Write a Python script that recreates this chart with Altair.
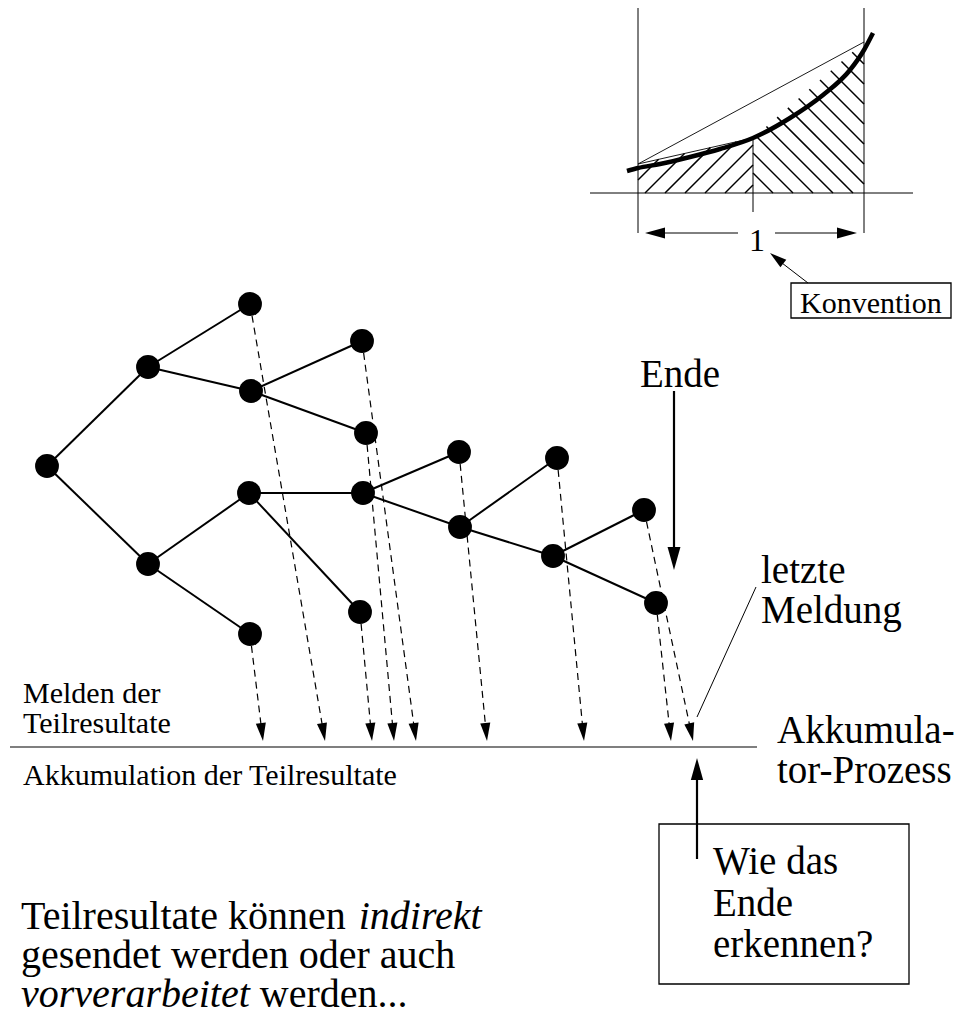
import math
import altair as alt
import pandas as pd

FONT = "Liberation Serif"

# ---------------- tree (image pixel coordinates) ----------------
node_id = ["r", "a", "b", "a1", "a2", "a2a", "a2b", "b1", "b2", "b1a", "b1b",
           "c1", "c2", "c3", "c4", "c5", "c6"]
node_x = [47, 148, 148, 250, 251, 362, 366, 249, 250, 363, 360,
          459, 460, 557, 553, 644, 656]
node_y = [466, 367, 564, 304, 391, 341, 433, 493, 634, 493, 612,
          452, 527, 458, 556, 510, 603]
edge_from = ["r", "r", "a", "a", "a2", "a2", "b", "b", "b1", "b1", "b1a", "b1a", "c2", "c2", "c4", "c4"]
edge_to = ["a", "b", "a1", "a2", "a2a", "a2b", "b1", "b2", "b1a", "b1b", "c1", "c2", "c3", "c4", "c5", "c6"]

# reports of partial results: leaf -> arrow tip on the accumulator line
report_leaf = ["b2", "a1", "b1b", "a2b", "a2a", "c1", "c3", "c6", "c5"]
report_tip_x = [263, 325, 372, 394, 416, 487, 584, 671, 693]
report_tip_y = 741

# accumulator line
acc_x = [10, 757]
acc_y = 747

# ---------------- inset (integration sketch) ----------------
curve_x = [627, 638, 660, 690, 720, 753, 790, 823, 850, 864, 873]
curve_y = [171, 168, 164, 157, 149, 138, 118, 95, 70, 50, 33]
inset_left, inset_mid, inset_right = 638, 753, 864
inset_base = 193
left_top = (638, 164)
mid_top = (753, 138)
right_top = (864, 42)

pos = {n: (x, y) for n, x, y in zip(node_id, node_x, node_y)}

# ---------------- build tables ----------------
edges = pd.DataFrame({
    "x": [pos[a][0] for a in edge_from], "y": [pos[a][1] for a in edge_from],
    "x2": [pos[b][0] for b in edge_to], "y2": [pos[b][1] for b in edge_to],
})
nodes = pd.DataFrame({"x": node_x, "y": node_y})

def angle_of(dx, dy):
    a = math.degrees(math.atan2(-dx, dy))
    return a % 360

dash_rows, head_rows = [], []
for leaf, tx in zip(report_leaf, report_tip_x):
    sx, sy = pos[leaf]
    dx, dy = tx - sx, report_tip_y - sy
    L = math.hypot(dx, dy)
    ex, ey = tx - dx / L * 14, report_tip_y - dy / L * 14
    dash_rows.append({"x": sx, "y": sy, "x2": ex, "y2": ey})
    head_rows.append({"x": tx, "y": report_tip_y, "ang": angle_of(dx, dy), "sz": 18 * 18 * 4})

# solid annotation lines
solid = pd.DataFrame([
    {"x": acc_x[0], "y": acc_y, "x2": acc_x[1], "y2": acc_y, "w": 1.2},
    {"x": 674, "y": 391, "x2": 674, "y2": 552, "w": 2.2},          # Ende arrow
    {"x": 697, "y": 859, "x2": 697, "y2": 775, "w": 2.2},          # question arrow
    {"x": 756, "y": 587, "x2": 697, "y2": 717, "w": 1.0},          # letzte Meldung pointer
])
head_rows += [
    {"x": 674, "y": 570, "ang": 0, "sz": 23 * 23 * 4},
    {"x": 697, "y": 758, "ang": 180, "sz": 22 * 22 * 4},
]

# inset thin lines
inset_lines = pd.DataFrame([
    {"x": 590, "y": inset_base, "x2": 913, "y2": inset_base, "w": 1.0},
    {"x": inset_left, "y": 7, "x2": inset_left, "y2": 233, "w": 1.0},
    {"x": inset_mid, "y": 138, "x2": inset_mid, "y2": 212, "w": 1.0},
    {"x": inset_right, "y": 7, "x2": inset_right, "y2": 233, "w": 1.0},
    {"x": left_top[0], "y": left_top[1], "x2": right_top[0], "y2": right_top[1], "w": 0.9},
    {"x": left_top[0], "y": left_top[1], "x2": mid_top[0], "y2": mid_top[1], "w": 0.9},
    {"x": 663, "y": 233, "x2": 738, "y2": 233, "w": 1.0},
    {"x": 775, "y": 233, "x2": 839, "y2": 233, "w": 1.0},
    {"x": 808, "y": 283, "x2": 782, "y2": 263, "w": 1.0},
])
head_rows += [
    {"x": 645, "y": 233, "ang": 90, "sz": 20 * 20 * 4},
    {"x": 857, "y": 233, "ang": 270, "sz": 20 * 20 * 4},
    {"x": 770, "y": 253, "ang": angle_of(770 - 808, 253 - 283), "sz": 17 * 17 * 4},
]
heads = pd.DataFrame(head_rows)
dashes = pd.DataFrame(dash_rows)

# hatching
def clip(poly, n, c):
    pts = []
    for i in range(len(poly)):
        p1, p2 = poly[i], poly[(i + 1) % len(poly)]
        f1 = n[0] * p1[0] + n[1] * p1[1] - c
        f2 = n[0] * p2[0] + n[1] * p2[1] - c
        if f1 * f2 <= 0 and f1 != f2:
            t = f1 / (f1 - f2)
            pts.append((p1[0] + t * (p2[0] - p1[0]), p1[1] + t * (p2[1] - p1[1])))
    if len(pts) < 2:
        return None
    pts.sort()
    a, b = pts[0], pts[-1]
    if math.hypot(b[0] - a[0], b[1] - a[1]) < 2:
        return None
    return {"x": a[0], "y": a[1], "x2": b[0], "y2": b[1]}

hatch_rows = []
poly_l = [(inset_left, inset_base), (inset_mid, inset_base), mid_top, left_top]
for c in range(818, 950, 20):
    s = clip(poly_l, (1, 1), c)
    if s:
        hatch_rows.append(s)
poly_r = [(inset_mid, inset_base), (inset_right, inset_base), right_top, mid_top]
for c in range(580, 830, 20):
    s = clip(poly_r, (1, -1), c)
    if s:
        hatch_rows.append(s)
hatch = pd.DataFrame(hatch_rows)

curve = pd.DataFrame({"x": curve_x, "y": curve_y, "o": list(range(len(curve_x)))})

boxes = pd.DataFrame([
    {"x": 659, "y": 824, "x2": 909, "y2": 984},
    {"x": 791, "y": 283, "x2": 951, "y2": 318},
])

# text
W_ROMAN = {" ": 250, "T": 611, "e": 444, "i": 278, "l": 278, "r": 333, "s": 389, "u": 500,
           "t": 278, "a": 444, "k": 500, "ö": 500, "n": 500}
W_ITAL = {"v": 444, "o": 500, "r": 389, "e": 444, "a": 500, "b": 500, "i": 278, "t": 278}
def width(s, table, size):
    return sum(table[ch] for ch in s) / 1000 * size

BIG = 40
line1_a = "Teilresultate können "
x_ind = 21 + width(line1_a, W_ROMAN, BIG)
x_werden = 21 + width("vorverarbeitet", W_ITAL, BIG) + 0.25 * BIG

texts = pd.DataFrame([
    {"x": 640, "y": 387, "t": "Ende", "s": 39},
    {"x": 761, "y": 583, "t": "letzte", "s": 39},
    {"x": 761, "y": 623, "t": "Meldung", "s": 39},
    {"x": 23, "y": 703, "t": "Melden der", "s": 30},
    {"x": 23, "y": 733, "t": "Teilresultate", "s": 30},
    {"x": 23, "y": 785, "t": "Akkumulation der Teilresultate", "s": 30},
    {"x": 777, "y": 743, "t": "Akkumula-", "s": 39},
    {"x": 777, "y": 783, "t": "tor-Prozess", "s": 39},
    {"x": 713, "y": 874, "t": "Wie das", "s": 39},
    {"x": 713, "y": 916, "t": "Ende", "s": 39},
    {"x": 713, "y": 957, "t": "erkennen?", "s": 39},
    {"x": 21, "y": 929, "t": line1_a.strip(), "s": BIG},
    {"x": 21, "y": 968, "t": "gesendet werden oder auch", "s": BIG},
    {"x": x_werden, "y": 1007, "t": "werden...", "s": BIG},
    {"x": 800, "y": 313, "t": "Konvention", "s": 30},
])
texts_it = pd.DataFrame([
    {"x": x_ind, "y": 929, "t": "indirekt", "s": BIG},
    {"x": 21, "y": 1007, "t": "vorverarbeitet", "s": BIG},
])
texts_c = pd.DataFrame([{"x": 757, "y": 251, "t": "1", "s": 32}])

# ---------------- chart ----------------
xs = alt.Scale(domain=[8, 954], nice=False, zero=False)
ys = alt.Scale(domain=[8, 1007], nice=False, zero=False, reverse=True)

def X(f="x"):
    return alt.X(f"{f}:Q", scale=xs, axis=None)
def Y(f="y"):
    return alt.Y(f"{f}:Q", scale=ys, axis=None)

def rules(df, **kw):
    enc = dict(x=X(), y=Y(), x2=alt.X2("x2:Q"), y2=alt.Y2("y2:Q"))
    if "w" in df.columns:
        enc["strokeWidth"] = alt.StrokeWidth("w:Q", scale=None)
    return alt.Chart(df).mark_rule(color="black", **kw).encode(**enc)

ARROW = "M0,0L-0.28,-1L0.28,-1Z"

layers = [
    rules(hatch, strokeWidth=1.5),
    rules(inset_lines),
    alt.Chart(curve).mark_line(color="black", strokeWidth=4.5, interpolate="monotone").encode(
        x=X(), y=Y(), order="o:Q"),
    rules(edges, strokeWidth=2),
    rules(dashes, strokeWidth=1.2, strokeDash=[7, 5]),
    rules(solid),
    alt.Chart(nodes).mark_point(shape="circle", filled=True, color="black", opacity=1, size=570).encode(
        x=X(), y=Y()),
    alt.Chart(heads).mark_point(shape=ARROW, filled=True, color="black", opacity=1, strokeWidth=0).encode(
        x=X(), y=Y(), angle=alt.Angle("ang:Q", scale=None), size=alt.Size("sz:Q", scale=None)),
    alt.Chart(boxes).mark_rect(filled=False, stroke="black", strokeWidth=1.3, fill=None).encode(
        x=X(), y=Y(), x2=alt.X2("x2:Q"), y2=alt.Y2("y2:Q")),
    alt.Chart(texts).mark_text(font=FONT, align="left", baseline="alphabetic", color="black").encode(
        x=X(), y=Y(), text="t:N", size=alt.Size("s:Q", scale=None)),
    alt.Chart(texts_it).mark_text(font=FONT, fontStyle="italic", align="left", baseline="alphabetic",
                                  color="black").encode(
        x=X(), y=Y(), text="t:N", size=alt.Size("s:Q", scale=None)),
    alt.Chart(texts_c).mark_text(font=FONT, align="center", baseline="alphabetic", color="black").encode(
        x=X(), y=Y(), text="t:N", size=alt.Size("s:Q", scale=None)),
]

chart = alt.layer(*layers).properties(
    width=946, height=999, padding=0, autosize="none"
).configure_view(stroke=None)

chart.save("out.html", embed_options={"renderer": "svg", "actions": False})
